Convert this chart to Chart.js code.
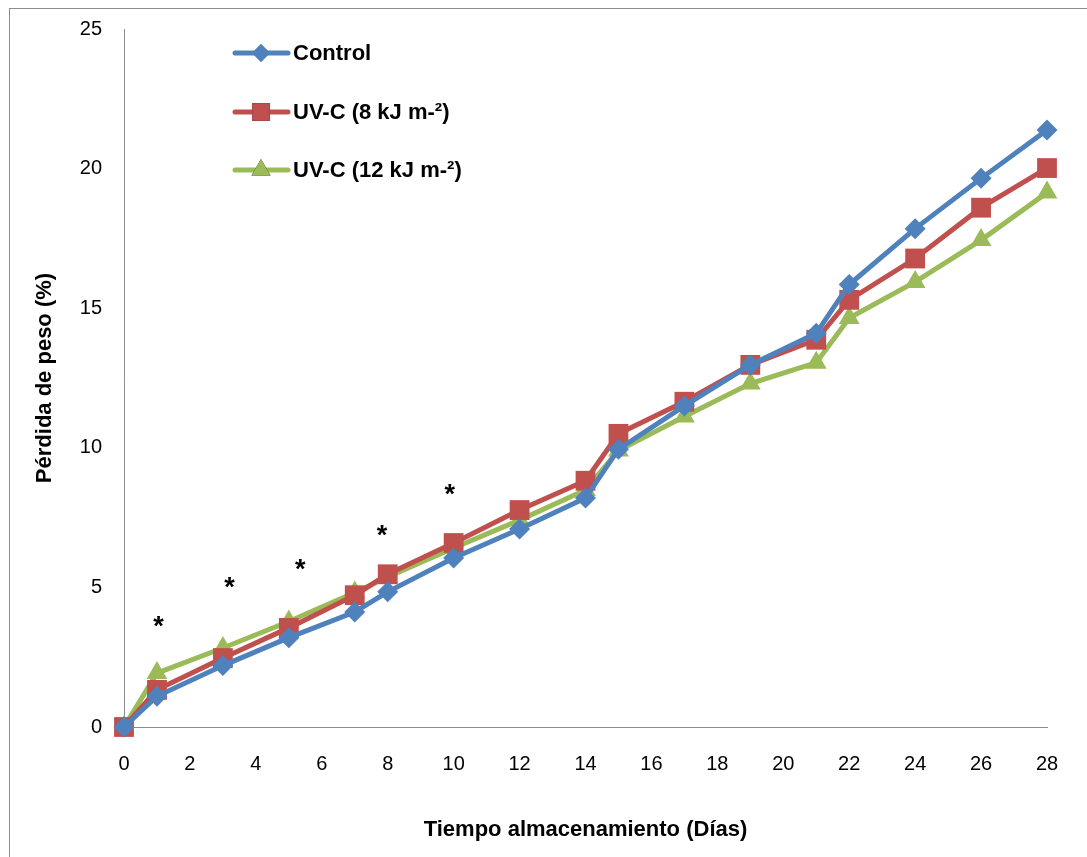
<!DOCTYPE html>
<html>
<head>
<meta charset="utf-8">
<script src="https://cdn.jsdelivr.net/npm/chart.js@4"></script>
<style>
  html, body { margin: 0; padding: 0; background: #fff; }
  #frame { position: absolute; left: 9px; top: 8px; width: 1100px; height: 900px; border: 1px solid #8c8c8c; }
  #wrap { position: absolute; left: 0; top: 0; width: 1087px; height: 857px; }
</style>
</head>
<body>
<div id="frame"></div>
<div id="wrap"><canvas id="chart" width="1087" height="857"></canvas></div>
<script>
// días de almacenamiento
const days = [0, 1, 3, 5, 7, 8, 10, 12, 14, 15, 17, 19, 21, 22, 24, 26, 28];
const control = [0, 1.1, 2.2, 3.2, 4.12, 4.84, 6.05, 7.09, 8.2, 9.95, 11.5, 12.97, 14.1, 15.85, 17.85, 19.65, 21.38];
const uvc8 = [0, 1.33, 2.47, 3.55, 4.72, 5.47, 6.59, 7.77, 8.82, 10.5, 11.65, 12.97, 13.87, 15.3, 16.78, 18.6, 20.02];
const uvc12 = [0, 1.93, 2.83, 3.78, 4.82, 5.37, 6.41, 7.41, 8.49, 9.9, 11.12, 12.3, 13.05, 14.65, 15.94, 17.44, 19.14];
const seriesNames = ['Control', 'UV-C (8 kJ m-²)', 'UV-C (12 kJ m-²)'];
// asteriscos de significancia
const starDays = [1.05, 3.2, 5.35, 7.83, 9.88];
const starValues = [3.7, 5.1, 5.75, 6.95, 8.42];

const colors = ['#4F81BD', '#C0504D', '#9BBB59'];
const styles = ['rectRot', 'rect', 'triangle'];
const radii = [10.5, 14, 12];

const toPoints = vals => vals.map((v, i) => ({ x: days[i], y: v }));

const legendPlugin = {
  id: 'legendInside',
  afterDatasetsDraw(chart) {
    const ctx = chart.ctx;
    const rows = [53, 112, 170];
    const legendRadii = [9, 12.5, 11];
    ctx.save();
    seriesNames.forEach((name, i) => {
      const y = rows[i];
      ctx.strokeStyle = colors[i];
      ctx.lineWidth = 5;
      ctx.lineCap = 'round';
      ctx.beginPath();
      ctx.moveTo(235, y);
      ctx.lineTo(288, y);
      ctx.stroke();
      Chart.helpers.drawPoint(ctx, {
        pointStyle: styles[i], radius: legendRadii[i], rotation: 0, borderWidth: 0
      }, 261, y);
      ctx.fillStyle = colors[i];
      ctx.fill();
      ctx.fillStyle = '#000';
      ctx.font = 'bold 22px "Liberation Sans", Arial, sans-serif';
      ctx.textBaseline = 'middle';
      ctx.textAlign = 'left';
      ctx.fillText(name, 293, y + 1);
    });
    ctx.restore();
  }
};

const starPlugin = {
  id: 'stars',
  afterDatasetsDraw(chart) {
    const { ctx, scales } = chart;
    ctx.save();
    ctx.fillStyle = '#000';
    ctx.font = 'bold 27px "Liberation Sans", Arial, sans-serif';
    ctx.textAlign = 'center';
    ctx.textBaseline = 'middle';
    starDays.forEach((d, i) => {
      ctx.fillText('*', scales.x.getPixelForValue(d), scales.y.getPixelForValue(starValues[i]) + 4);
    });
    ctx.restore();
  }
};

new Chart(document.getElementById('chart').getContext('2d'), {
  type: 'line',
  data: {
    datasets: [control, uvc8, uvc12].map((vals, i) => ({
      label: seriesNames[i],
      data: toPoints(vals),
      borderColor: colors[i],
      backgroundColor: colors[i],
      borderWidth: 5,
      pointStyle: styles[i],
      pointRadius: radii[i],
      pointBorderWidth: 0,
      tension: 0,
      clip: false
    }))
  },
  options: {
    responsive: false,
    animation: false,
    layout: { padding: { top: 29, right: 40, left: 0, bottom: 0 } },
    plugins: { legend: { display: false }, tooltip: { enabled: false } },
    scales: {
      x: {
        type: 'linear',
        min: 0, max: 28,
        grid: { display: false, drawTicks: false },
        border: { color: '#8c8c8c', width: 1 },
        ticks: {
          stepSize: 2, padding: 25, color: '#000',
          font: { family: '"Liberation Sans", Arial, sans-serif', size: 20 }
        },
        title: {
          display: true, text: 'Tiempo almacenamiento (Días)', color: '#000',
          font: { family: '"Liberation Sans", Arial, sans-serif', size: 22, weight: 'bold' },
          padding: { top: 4, bottom: 14 }
        },
        afterFit(axis) { axis.height = 130; axis.paddingLeft = 0; axis.paddingRight = 0; }
      },
      y: {
        min: 0, max: 25,
        grid: { display: false, drawTicks: false },
        border: { color: '#8c8c8c', width: 1 },
        ticks: {
          stepSize: 5, padding: 22, color: '#000',
          font: { family: '"Liberation Sans", Arial, sans-serif', size: 20 }
        },
        title: {
          display: true, text: 'Pérdida de peso (%)', color: '#000',
          font: { family: '"Liberation Sans", Arial, sans-serif', size: 22, weight: 'bold' },
          padding: { top: 32, bottom: 0 }
        },
        afterFit(axis) { axis.width = 124; axis.paddingTop = 0; axis.paddingBottom = 0; }
      }
    }
  },
  plugins: [legendPlugin, starPlugin]
});
</script>
</body>
</html>
